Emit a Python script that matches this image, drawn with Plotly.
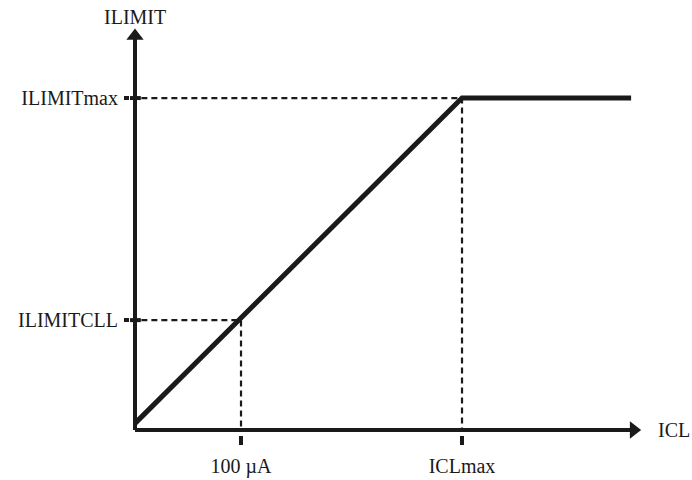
import plotly.graph_objects as go

# Data (x in µA, y relative to ILIMITmax)
icl_cll = 100.0          # 100 µA
icl_max = 308.5          # ICLmax
icl_end = 468.0          # end of plotted curve
ilimit_start = 0.02
ilimit_cll = 0.331
ilimit_max = 1.0

curve_x = [0, icl_max, icl_end]
curve_y = [ilimit_start, ilimit_max, ilimit_max]

x_ticks = [icl_cll, icl_max]
x_ticktext = ["100 µA", "ICLmax"]
y_ticks = [ilimit_cll, ilimit_max]
y_ticktext = ["ILIMITCLL", "ILIMITmax"]

x_min = -4.72
x_max = 476.4
y_min = -0.01506
y_max = 1.205

FONT = "Liberation Serif, Times New Roman, serif"
INK = "#1a1a1a"
FS = 20

fig = go.Figure()

# dashed guides
fig.add_trace(go.Scatter(x=[6, icl_cll, icl_cll], y=[ilimit_cll, ilimit_cll, 0],
                         mode="lines", line=dict(color=INK, width=2.2, dash="6px,4px"),
                         hoverinfo="skip"))
fig.add_trace(go.Scatter(x=[6, icl_max, icl_max], y=[ilimit_max, ilimit_max, 0],
                         mode="lines", line=dict(color=INK, width=2.2, dash="6px,4px"),
                         hoverinfo="skip"))
# solid tick stubs across the y axis
for yv in y_ticks:
    fig.add_trace(go.Scatter(x=[x_min, 5.5], y=[yv, yv], mode="lines",
                             line=dict(color=INK, width=4), hoverinfo="skip"))

# main curve
fig.add_trace(go.Scatter(x=curve_x, y=curve_y, mode="lines",
                         line=dict(color=INK, width=5), hoverinfo="skip"))

# axis lines with arrowheads
fig.add_trace(go.Scatter(x=[0, x_max - 8], y=[0, 0], mode="lines",
                         line=dict(color=INK, width=4), hoverinfo="skip"))
fig.add_trace(go.Scatter(x=[0, 0], y=[0, y_max - 0.02], mode="lines",
                         line=dict(color=INK, width=4), hoverinfo="skip"))
fig.add_trace(go.Scatter(x=[x_max - 6], y=[0], mode="markers",
                         marker=dict(symbol="triangle-right", size=15, color=INK),
                         hoverinfo="skip", cliponaxis=False))
fig.add_trace(go.Scatter(x=[0], y=[y_max - 0.018], mode="markers",
                         marker=dict(symbol="triangle-up", size=15, color=INK),
                         hoverinfo="skip", cliponaxis=False))

fig.update_layout(
    width=692, height=480,
    margin=dict(l=130, r=52, t=30, b=45),
    paper_bgcolor="white", plot_bgcolor="white",
    showlegend=False,
    font=dict(family=FONT, size=FS, color=INK),
    xaxis=dict(range=[x_min, x_max], showgrid=False, zeroline=False, showline=False,
               tickmode="array", tickvals=x_ticks, ticktext=x_ticktext,
               ticks="outside", ticklen=9, tickwidth=3.5, tickcolor=INK,
               ticklabelstandoff=4, automargin=False, fixedrange=True),
    yaxis=dict(range=[y_min, y_max], showgrid=False, zeroline=False, showline=False,
               tickmode="array", tickvals=y_ticks, ticktext=y_ticktext,
               ticks="outside", ticklen=5, tickwidth=4, tickcolor=INK,
               ticklabelstandoff=2, automargin=False, fixedrange=True),
    annotations=[
        dict(text="ILIMIT", xref="x", yref="paper", x=0, y=1, xanchor="center",
             yanchor="bottom", yshift=0, showarrow=False, font=dict(size=FS)),
        dict(text="ICL", xref="paper", yref="y", x=1, y=0, xanchor="left",
             yanchor="middle", xshift=16, showarrow=False, font=dict(size=FS)),
    ],
)

fig.write_html("out.html", config={"displayModeBar": False},
               post_script="document.body.style.margin='0';document.body.style.overflow='hidden';")
